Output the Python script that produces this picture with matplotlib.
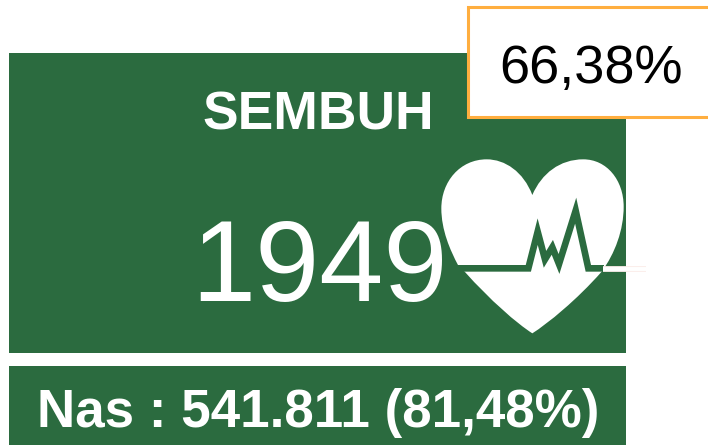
import matplotlib
matplotlib.use("Agg")
import matplotlib.pyplot as plt
from matplotlib.patches import Rectangle, PathPatch
from matplotlib.path import Path

plt.rcParams['font.family'] = ['Liberation Sans', 'DejaVu Sans']

title = "SEMBUH"
count = "1949"
percent = "66,38%"
national = "Nas : 541.811 (81,48%)"

GREEN = "#2B6B3F"
ORANGE = "#FFAE3F"

fig = plt.figure(figsize=(7.08, 4.45), dpi=100)
ax = fig.add_axes([0, 0, 1, 1])
ax.set_xlim(0, 708)
ax.set_ylim(445, 0)
ax.axis("off")

ax.add_patch(Rectangle((9, 53), 617, 300, fc=GREEN, ec="none", zorder=1))
ax.add_patch(Rectangle((9, 366), 617, 79, fc=GREEN, ec="none", zorder=1))
ax.add_patch(Rectangle((468, 7), 260, 110, fc="white", ec=ORANGE, lw=2.2, zorder=5))

def z(pts):
    return [(430 + x / 3, 150 + y / 3) for x, y in pts]

heart_pts = z([(307,135),
               (280,65),(225,28),(170,28),
               (90,28),(34,95),(34,175),
               (34,240),(60,300),(85,347),
               (104,365),
               (180,450),(260,520),(307,550),
               (354,520),(440,450),(515,365),
               (555,310),(581,240),(581,170),
               (581,90),(530,28),(460,28),
               (390,28),(335,70),(307,135)])
heart_codes = [Path.MOVETO] + [Path.CURVE4] * 9 + [Path.LINETO] + [Path.CURVE4] * 15
ax.add_patch(PathPatch(Path(heart_pts, heart_codes), fc="white", ec="none", zorder=2))

ecg = z([(70,355),(295,355),(323,245),(345,328),(367,292),(387,342),(437,182),(475,355),(522,355)])
xs, ys = zip(*ecg)
ax.plot(xs, ys, color=GREEN, lw=4.8, solid_joinstyle="miter", solid_capstyle="butt", zorder=3)

tail = z([(518,356),(648,356)])
xs, ys = zip(*tail)
ax.plot(xs, ys, color="#FBEDEA", lw=4.2, solid_capstyle="butt", zorder=3)
ax.plot(xs, ys, color="white", lw=2.8, solid_capstyle="butt", zorder=3)

ax.text(318, 116, title, ha="center", va="center", color="white", fontsize=38.4, fontweight="bold", zorder=4)
ax.text(319, 271, count, ha="center", va="center", color="white", fontsize=83, zorder=4)
ax.text(590.5, 69, percent, ha="center", va="center", color="black", fontsize=39, zorder=6)
ax.text(318, 413, national, ha="center", va="center", color="white", fontsize=38.2, fontweight="bold", zorder=4)

fig.savefig("out.png", dpi=100)
